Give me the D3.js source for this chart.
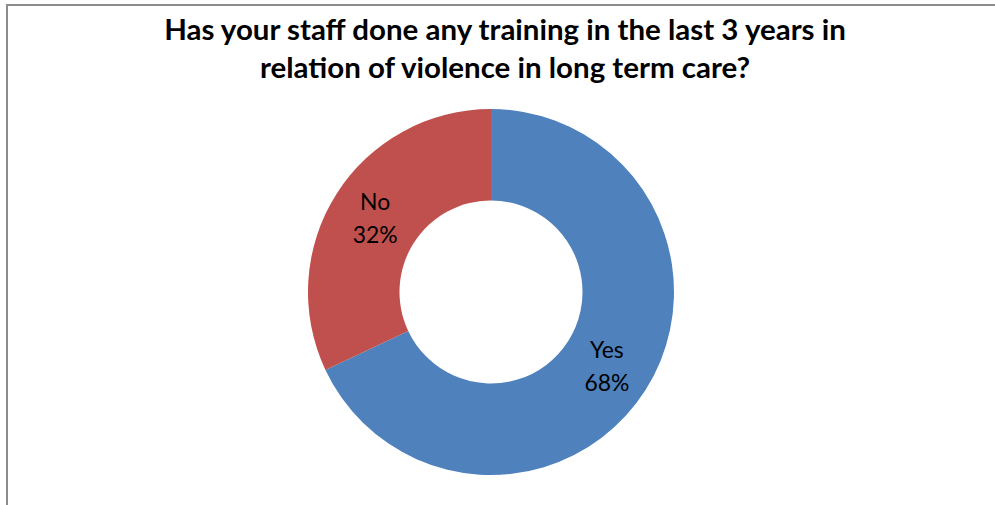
<!DOCTYPE html>
<html>
<head>
<meta charset="utf-8">
<script src="https://cdn.jsdelivr.net/npm/d3@7/dist/d3.min.js"></script>
<style>
  html, body { margin: 0; padding: 0; background: #fff; }
  svg { display: block; }
</style>
</head>
<body>
<svg id="chart" width="995" height="505"></svg>
<script>
// Survey answers and their shares (percent)
const categories = ["Yes", "No"];
const shares = [68, 32];
const sliceColors = ["#4F81BD", "#C0504D"];
const titleLines = [
  "Has your staff done any training in the last 3 years in",
  "relation of violence in long term care?"
];

const width = 995, height = 505;
const svg = d3.select("#chart");
const fontFamily = "Lato, 'Open Sans', 'DejaVu Sans', sans-serif";

// Chart area frame (continues past the right and bottom edges)
svg.append("rect")
  .attr("x", 7).attr("y", 5)
  .attr("width", 1100).attr("height", 600)
  .attr("fill", "#fff")
  .attr("stroke", "#8c8c8c")
  .attr("stroke-width", 2);

// Title, sized so the first line spans its full measured width
const title = svg.append("g");
const titleTexts = title.selectAll("text")
  .data(titleLines)
  .join("text")
  .attr("x", 505)
  .attr("y", (d, i) => 40 + i * 38)
  .attr("text-anchor", "middle")
  .attr("font-family", fontFamily)
  .attr("font-weight", "bold")
  .attr("font-size", 24)
  .attr("fill", "#000")
  .text(d => d);
const firstLen = titleTexts.nodes()[0].getComputedTextLength();
titleTexts.attr("font-size", 24 * 682 / firstLen);

// Donut
const cx = 491, cy = 292, outerR = 183, innerR = 91.5;
const pie = d3.pie().sort(null).value(d => d.value);
const arcs = pie(categories.map((c, i) => ({ name: c, value: shares[i], color: sliceColors[i] })));
const arc = d3.arc().innerRadius(innerR).outerRadius(outerR);

const g = svg.append("g").attr("transform", `translate(${cx},${cy})`);
g.selectAll("path")
  .data(arcs)
  .join("path")
  .attr("d", arc)
  .attr("fill", d => d.data.color);

// Labels at the middle of each ring segment
const labelG = g.selectAll("g.label")
  .data(arcs)
  .join("g")
  .attr("class", "label")
  .attr("transform", d => `translate(${arc.centroid(d)})`);

let labelSize = 22;
const lbl = labelG.append("text")
  .attr("text-anchor", "middle")
  .attr("font-family", fontFamily)
  .attr("font-size", labelSize)
  .attr("fill", "#000");
lbl.append("tspan").attr("class", "n").attr("x", 0).attr("y", -8).text(d => d.data.name);
lbl.append("tspan").attr("class", "p").attr("x", 0).attr("y", 25).text(d => d.data.value + "%");

// Scale label font so the percent text is ~45px wide
const pLen = lbl.select("tspan.p").node().getComputedTextLength();
lbl.attr("font-size", labelSize * 45 / pLen);
</script>
</body>
</html>
